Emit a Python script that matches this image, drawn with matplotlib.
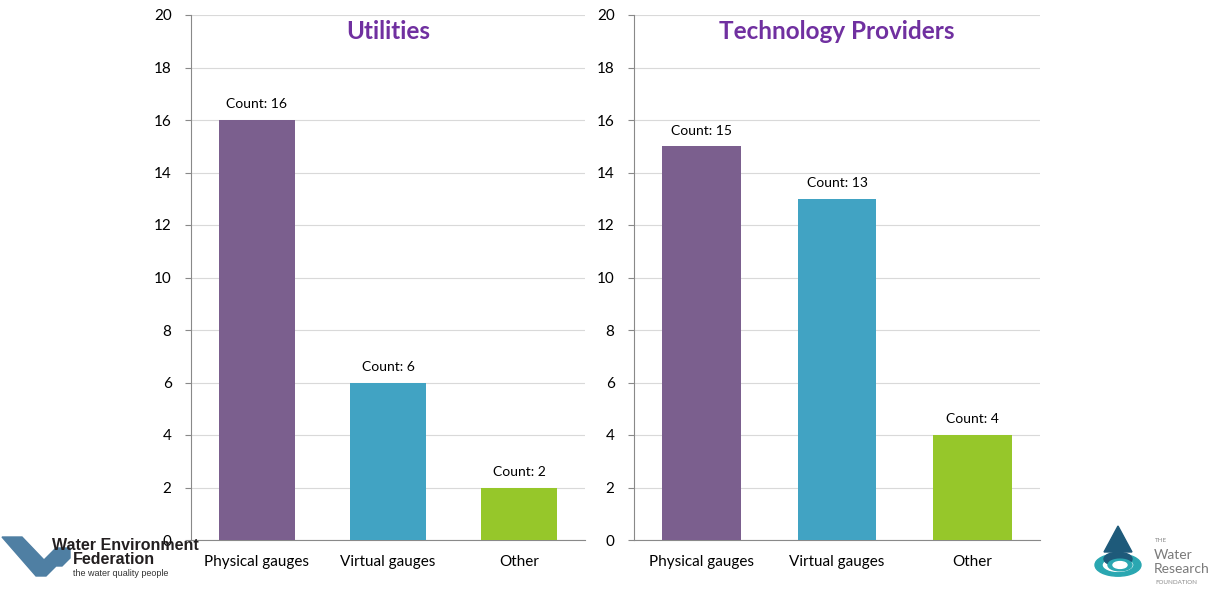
import matplotlib.pyplot as plt
from matplotlib.patches import Polygon, Wedge, Circle

plt.rcParams["font.family"] = ["Lato", "DejaVu Sans"]

CATEGORIES = ["Physical gauges", "Virtual gauges", "Other"]
UTILITIES = [16, 6, 2]
PROVIDERS = [15, 13, 4]
TITLES = ["Utilities", "Technology Providers"]
BAR_COLORS = ["#7B5F8E", "#41A3C3", "#96C72A"]
Y_TICKS = list(range(0, 21, 2))

W, H = 1225, 596


def px(x, y):
    return x / W, 1 - y / H


def draw_panel(ax, values, title):
    xs = range(len(CATEGORIES))
    bars = ax.bar(xs, values, width=0.58, color=BAR_COLORS, zorder=3)
    for b, v in zip(bars, values):
        ax.annotate(f"Count: {v}", (b.get_x() + b.get_width() / 2, v),
                    xytext=(0, 7), textcoords="offset points",
                    ha="center", va="bottom", fontsize=10)
    ax.set_xlim(-0.5, len(CATEGORIES) - 0.5)
    ax.set_ylim(0, 20)
    ax.set_yticks(Y_TICKS)
    ax.set_xticks(list(xs))
    ax.set_xticklabels(CATEGORIES, fontsize=11)
    ax.tick_params(axis="x", length=0, pad=11)
    ax.tick_params(axis="y", length=4, pad=10, labelsize=11, color="#898989")
    ax.grid(axis="y", color="#D9D9D9", linewidth=0.8, zorder=0)
    for side in ["top", "right"]:
        ax.spines[side].set_visible(False)
    for side in ["left", "bottom"]:
        ax.spines[side].set_color("#898989")
    ax.set_title(title, color="#7030A0", fontsize=17.5, fontweight="bold",
                 y=0.975, va="top")


fig = plt.figure(figsize=(W / 100, H / 100), dpi=100)
ax1 = fig.add_axes([191 / W, 56 / H, 394 / W, 525 / H])
ax2 = fig.add_axes([634 / W, 56 / H, 406 / W, 525 / H])
draw_panel(ax1, UTILITIES, TITLES[0])
draw_panel(ax2, PROVIDERS, TITLES[1])

# Water Environment Federation logo (approximation)
zig = [(2, 537), (22, 537), (44, 560), (56, 548), (70, 548), (70, 558),
       (62, 566), (56, 566), (46, 576), (36, 576)]
fig.patches.append(Polygon([px(x, y) for x, y in zig], closed=True,
                           transform=fig.transFigure, color="#4F7FA3"))
fig.text(*px(52, 545), "Water Environment", fontsize=11.5, fontweight="bold",
         va="center", ha="left", color="#231F20", family=["Liberation Sans"])
fig.text(*px(73, 559), "Federation", fontsize=11.5, fontweight="bold",
         va="center", ha="left", color="#231F20", family=["Liberation Sans"])
fig.text(*px(73, 573), "the water quality people", fontsize=6.5,
         va="center", ha="left", color="#333333", family=["Liberation Sans"])

# The Water Research Foundation logo (approximation)
fig.patches.append(Wedge(px(1118, 565), 23 / W, 0, 360, width=7 / W,
                         transform=fig.transFigure, color="#2AA7B1"))
fig.patches.append(Polygon([px(1118, 526), px(1104, 552), px(1132, 552)],
                           closed=True, transform=fig.transFigure,
                           color="#1E5A7A"))
fig.patches.append(Circle(px(1118, 559), 14 / W, transform=fig.transFigure,
                          color="#1E5A7A"))
fig.patches.append(Wedge(px(1120, 565), 12 / W, 0, 360, width=5 / W,
                         transform=fig.transFigure, color="#2AA7B1"))
fig.patches.append(Circle(px(1120, 565), 7 / W, transform=fig.transFigure,
                          color="white"))
fig.text(*px(1155, 541), "THE", fontsize=4.5, color="#8A8A8A", va="center")
fig.text(*px(1154, 555), "Water", fontsize=10, color="#7A7A7A", va="center")
fig.text(*px(1154, 569), "Research", fontsize=10, color="#7A7A7A", va="center")
fig.text(*px(1155, 582), "FOUNDATION", fontsize=4.5, color="#8A8A8A",
         va="center")

fig.savefig("out.png", dpi=100)
